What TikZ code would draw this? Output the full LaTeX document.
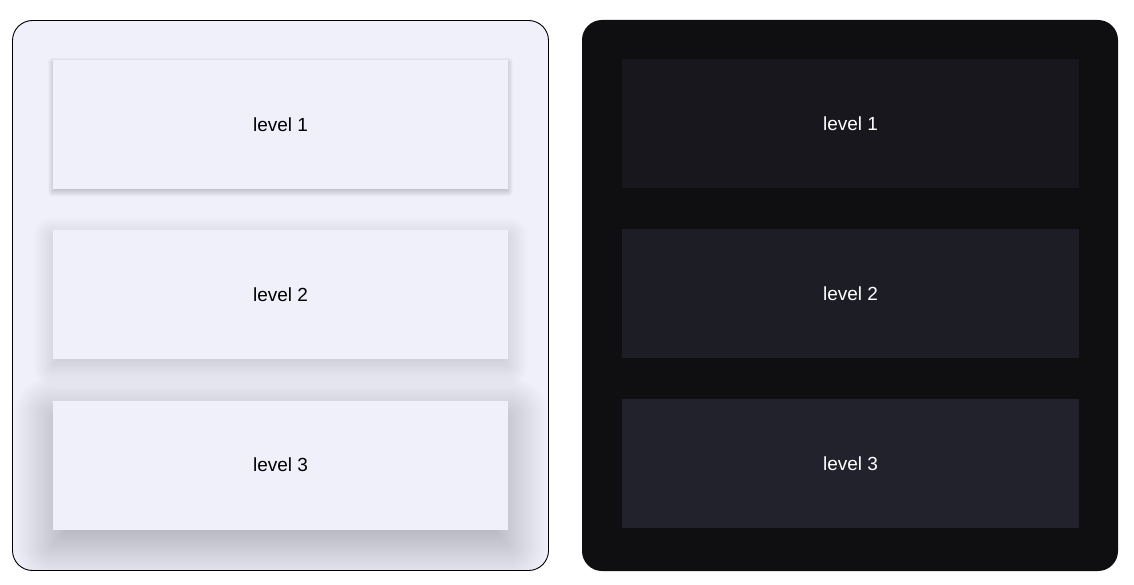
\documentclass[tikz,border=0pt]{standalone}
\usepackage{fontspec}
\setmainfont{Liberation Sans}
\usetikzlibrary{calc}
\definecolor{lightbg}{HTML}{F0F0FA}
\definecolor{lightbox}{HTML}{F0F0FA}
\definecolor{shadowc}{HTML}{10101A}
\definecolor{darkbg}{HTML}{0F0F11}
\definecolor{dark1}{HTML}{17171D}
\definecolor{dark2}{HTML}{1D1D25}
\definecolor{dark3}{HTML}{22222C}
\pgfdeclarelayer{panel}
\pgfdeclarelayer{shadow}
\pgfsetlayers{panel,shadow,main}
\tikzset{
  panel/.style={rounded corners=20pt, line width=0.9pt},
  card/.style={draw=none, fill=lightbox, minimum width=455pt, minimum height=129pt, inner sep=0pt, text=black, font=\fontsize{19}{22}\selectfont},
  dcard/.style={draw=none, minimum width=457pt, minimum height=129pt, inner sep=0pt, text=white, font=\fontsize{19}{22}\selectfont},
}
% node, y offset, blur radius, steps, opacity per step
\newcommand\cardshadow[5]{%
  \begin{pgfonlayer}{shadow}
  \begin{scope}
  \clip[rounded corners=20pt] (13,21) rectangle (548,570);
  \foreach \k in {1,...,#4}{%
    \pgfmathsetmacro\sp{#3*(1-2*(\k-0.5)/#4)}%
    \pgfmathsetmacro\rc{max(\sp,0.1)}%
    \fill[shadowc, opacity=#5, rounded corners=\rc pt]
      ($(#1.north west)+(-\sp,-\sp+#2)$) rectangle ($(#1.south east)+(\sp,\sp+#2)$);
  }%
  \end{scope}
  \end{pgfonlayer}}
\begin{document}
\begin{tikzpicture}[x=1pt, y=-1pt]
\useasboundingbox (0,0) rectangle (1134,585);
\begin{pgfonlayer}{panel}
\fill[white] (0,0) rectangle (1134,585);
\filldraw[panel, fill=lightbg, draw=black] (12.5,20.5) rectangle (548.5,570.5);
\fill[panel, darkbg] (582,20) rectangle (1118,571);
\end{pgfonlayer}
% left panel
\node[card] (l1) at (280.5,125) {level 1};
\node[card] (l2) at (280.5,294.5) {level 2};
\node[card] (l3) at (280.5,465) {level 3};
\cardshadow{l1}{2}{5}{10}{0.028}
\cardshadow{l2}{7}{20}{24}{0.0087}
\cardshadow{l3}{15}{40}{40}{0.0066}
% right panel
\node[dcard, fill=dark1] (r1) at (850.5,124) {level 1};
\node[dcard, fill=dark2] (r2) at (850.5,293.5) {level 2};
\node[dcard, fill=dark3] (r3) at (850.5,463.5) {level 3};
\end{tikzpicture}
\end{document}
